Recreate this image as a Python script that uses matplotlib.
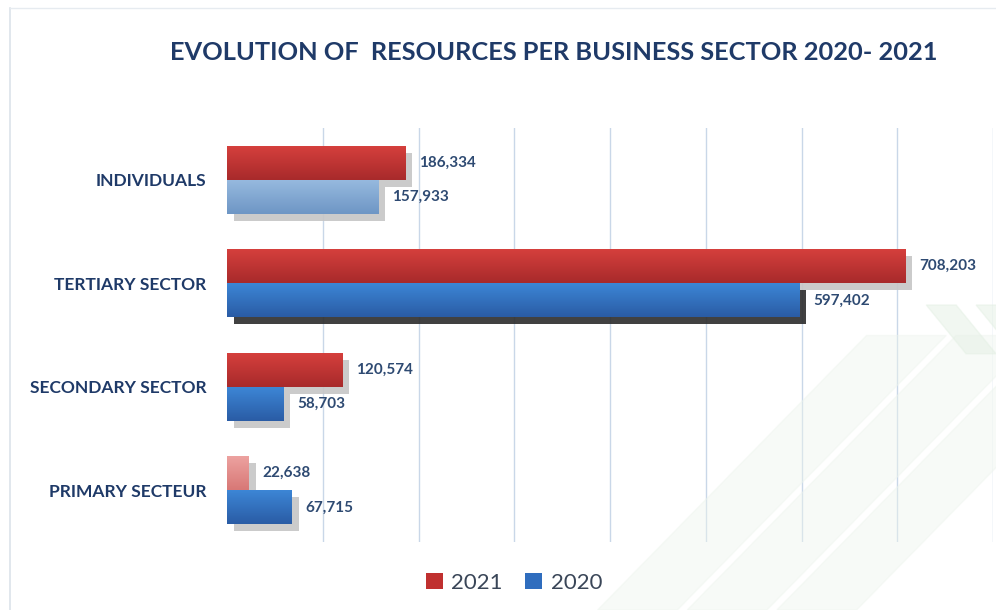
import matplotlib.pyplot as plt
import matplotlib.patheffects as pe
from matplotlib.colors import LinearSegmentedColormap
from matplotlib.patches import Patch, Polygon
import numpy as np

plt.rcParams['font.family'] = ['Lato', 'DejaVu Sans']

# resources per sector (bottom to top)
sectors = ["PRIMARY SECTEUR", "SECONDARY SECTOR", "TERTIARY SECTOR", "INDIVIDUALS"]
res_2021 = [22638, 120574, 708203, 186334]
res_2020 = [67715, 58703, 597402, 157933]

# (top, bottom) gradient colours per bar
red = ('#D6403D', '#A82A2B')
pink = ('#EDA3A1', '#D87876')
blue = ('#3D87D7', '#2A5CA5')
pale_blue = ('#97BADF', '#6E96C5')
cols_2021 = [pink, red, red, red]
cols_2020 = [blue, blue, blue, pale_blue]
shadow_2020 = ['#C6C6C6', '#C6C6C6', '#2C2C2C', '#C6C6C6']

navy = '#1F3A68'
label_col = '#2E4A72'

fig = plt.figure(figsize=(9.96, 6.10), dpi=100)
fig.patch.set_facecolor('white')

# faint watermark stripes in the lower right
for dx in [0.0, 0.09, 0.18]:
    fig.patches.append(Polygon([(0.60 + dx, 0.0), (0.68 + dx, 0.0), (0.95 + dx, 0.45), (0.87 + dx, 0.45)],
                               closed=True, transform=fig.transFigure, color='#EEF5EE', alpha=0.45, zorder=0))
for dx in [0.0, 0.05]:
    fig.patches.append(Polygon([(0.93 + dx, 0.50), (0.96 + dx, 0.50), (1.0 + dx, 0.42), (0.97 + dx, 0.42)],
                               closed=True, transform=fig.transFigure, color='#E4F0E4', alpha=0.5, zorder=0))

# thin frame around the chart
fig.add_artist(plt.Line2D([10 / 996, 10 / 996], [0, 1 - 8 / 610], transform=fig.transFigure,
                          color='#DCE3EA', lw=1.2))
fig.add_artist(plt.Line2D([10 / 996, 1], [1 - 8 / 610, 1 - 8 / 610], transform=fig.transFigure,
                          color='#E6EBF0', lw=1.0))

ax = fig.add_axes([227 / 996, 1 - 542 / 610, (993 - 227) / 996, 414 / 610])
ax.set_facecolor('none')

y = np.arange(len(sectors))
h = 0.33


def gradient_bars(bars, colors, shadows):
    for bar, (top, bot), sh in zip(bars, colors, shadows):
        bar.set_facecolor(bot)
        bar.set_path_effects([pe.SimplePatchShadow(offset=(5, -5), shadow_rgbFace=sh, alpha=0.9),
                              pe.Normal()])
        x0, y0 = bar.get_x(), bar.get_y()
        w, hh = bar.get_width(), bar.get_height()
        cmap = LinearSegmentedColormap.from_list('g', [bot, top])
        grad = np.linspace(0, 1, 64).reshape(-1, 1)
        im = ax.imshow(grad, extent=[x0, x0 + w, y0, y0 + hh], origin='lower',
                       cmap=cmap, aspect='auto', zorder=bar.get_zorder() + 0.1, interpolation='bicubic')
        im.set_clip_path(bar)


b21 = ax.barh(y + h / 2, res_2021, height=h, zorder=3, linewidth=0)
gradient_bars(b21, cols_2021, ['#C6C6C6'] * 4)
b20 = ax.barh(y - h / 2, res_2020, height=h, zorder=4, linewidth=0)
gradient_bars(b20, cols_2020, shadow_2020)

for yy, v in zip(y, res_2021):
    ax.annotate(f"{v:,}", (v, yy + h / 2), xytext=(10, 0), textcoords='offset points',
                va='center', ha='left', fontsize=11, fontweight='bold', color=label_col, zorder=6)
for yy, v in zip(y, res_2020):
    ax.annotate(f"{v:,}", (v, yy - h / 2), xytext=(10, 0), textcoords='offset points',
                va='center', ha='left', fontsize=11, fontweight='bold', color=label_col, zorder=6)

ax.set_xlim(0, 800000)
ax.set_ylim(-0.5, 3.5)
ax.set_xticks(np.arange(100000, 800001, 100000))
ax.set_xticklabels([])
ax.grid(axis='x', color='#C9D7E8', lw=1)
ax.set_axisbelow(True)
ax.set_yticks(y)
ax.set_yticklabels(sectors, fontsize=12.5, fontweight='bold', color=navy)
ax.tick_params(length=0, pad=15)
for s in ax.spines.values():
    s.set_visible(False)

fig.text(0.556, 1 - 52 / 610, "EVOLUTION OF  RESOURCES PER BUSINESS SECTOR 2020- 2021",
         ha='center', va='center', fontsize=18.3, fontweight='bold', color=navy)

handles = [Patch(facecolor='#C0302F', label='2021'), Patch(facecolor='#2F6DBE', label='2020')]
fig.legend(handles=handles, loc='center', bbox_to_anchor=(514 / 996, 1 - 583 / 610), ncol=2,
           frameon=False, fontsize=16, handlelength=0.75, handleheight=0.75, handletextpad=0.4,
           columnspacing=1.0, labelcolor='#3A4658')

fig.savefig('out.png', dpi=100)
